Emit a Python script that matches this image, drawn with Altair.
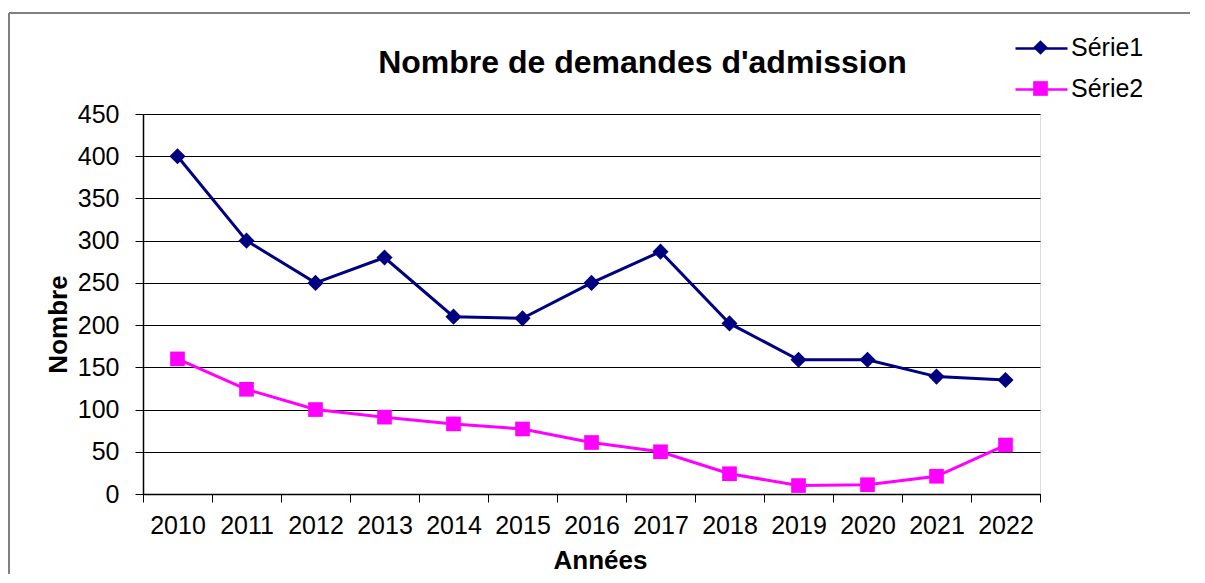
import altair as alt
import pandas as pd

years = [str(y) for y in range(2010, 2023)]
serie1 = [400, 300, 250, 280, 210, 208, 250, 287, 202, 159, 159, 139, 135]
serie2 = [160, 124, 100, 91, 83, 77, 61, 50, 24, 10, 11, 21, 58]
series_names = ["Série1", "Série2"]
series_colors = ["#000080", "#FF00FF"]
y_ticks = list(range(0, 451, 50))

rows = []
for name, vals in zip(series_names, [serie1, serie2]):
    for yr, v in zip(years, vals):
        rows.append({"annee": yr, "nombre": v, "serie": name, "serie_l": name + " "})
df = pd.DataFrame(rows)
line_keys = [n + " " for n in series_names]

FONT = "Liberation Sans"
W, H = 897, 380

x_enc = alt.X(
    "annee:O",
    bandPosition=0.5,
    scale=alt.Scale(type="band", paddingInner=0, paddingOuter=0, domain=years),
    axis=alt.Axis(
        title="Années", titleFont=FONT, titleFontSize=26, titleFontWeight="bold",
        titleColor="black", titleX=457, titleY=66, titleBaseline="middle",
        labelFont=FONT, labelFontSize=25, labelColor="black", labelAngle=0,
        labelPadding=11, tickBand="extent", tickSize=8, tickColor="black",
        domainColor="black", domainWidth=1.5, grid=False,
    ),
)
y_enc = alt.Y(
    "nombre:Q",
    scale=alt.Scale(domain=[0, 450], nice=False, zero=True),
    axis=alt.Axis(
        values=y_ticks, title="Nombre", titleFont=FONT, titleFontSize=26,
        titleFontWeight="bold", titleColor="black", titleX=-85, titleY=210,
        titleAlign="center", titleBaseline="middle", titleAngle=-90,
        labelFont=FONT, labelFontSize=25, labelColor="black", labelPadding=16,
        tickSize=8, tickColor="black", domainColor="black", domainWidth=1.5,
        grid=True, gridColor="black", gridWidth=1, gridOpacity=1,
    ),
)

color_scale = alt.Scale(domain=series_names, range=series_colors)
base = alt.Chart(df)

lines = base.mark_line(strokeWidth=3).encode(
    x=x_enc, y=y_enc,
    color=alt.Color("serie:N", scale=color_scale, legend=None),
)
points = base.mark_point(filled=True, opacity=1).encode(
    x=x_enc, y=y_enc,
    color=alt.Color("serie:N", scale=color_scale, legend=None),
    shape=alt.Shape("serie:N", scale=alt.Scale(domain=series_names, range=["diamond", "square"]), legend=None),
    size=alt.Size("serie:N", scale=alt.Scale(domain=series_names, range=[260, 215]), legend=None),
)

# legend: line part (no labels)
leg_line = base.transform_filter("false").mark_line(strokeWidth=2.5).encode(
    x=x_enc, y=y_enc,
    stroke=alt.Stroke("serie_l:N", scale=alt.Scale(domain=line_keys, range=series_colors),
                      legend=alt.Legend(
        orient="none", legendX=871, legendY=-93, title=None, padding=0,
        labelFont=FONT, labelFontSize=25, labelColor="black", labelOffset=6,
        labelExpr="''", symbolType="stroke", symbolSize=2704, symbolStrokeWidth=2.5,
        rowPadding=-1,
    )),
)
# legend: marker part (visible labels)
mk_leg = dict(
    orient="none", legendX=885, legendY=-79, title=None, padding=0,
    labelFont=FONT, labelFontSize=25, labelColor="black", labelOffset=18,
    symbolSize=215, symbolOpacity=1, symbolStrokeWidth=0, rowPadding=15,
)
leg_marker = base.transform_filter("false").mark_point(filled=True).encode(
    x=x_enc, y=y_enc,
    fill=alt.Fill("serie:N", scale=alt.Scale(domain=series_names, range=series_colors),
                  legend=alt.Legend(**mk_leg)),
    shape=alt.Shape("serie:N", scale=alt.Scale(domain=series_names, range=["diamond", "square"]),
                    legend=alt.Legend(**mk_leg)),
)

frame_left = base.mark_rule(color="#808080", strokeWidth=2).encode(
    x=alt.value(-134), y=alt.value(-101), y2=alt.value(600)
)
frame_top = base.mark_rule(color="#808080", strokeWidth=2).encode(
    x=alt.value(-134), x2=alt.value(1200), y=alt.value(-101)
)

chart = alt.layer(frame_left, frame_top, lines, points, leg_line, leg_marker).resolve_scale(
    shape="independent", size="independent", stroke="independent", fill="independent"
).properties(
    width=W, height=H,
    title=alt.Title("Nombre de demandes d'admission", font=FONT, fontSize=32,
                    fontWeight="bold", color="black", anchor="middle", frame="group",
                    dx=51, dy=72),
    autosize=alt.AutoSizeParams(type="none"),
    padding={"left": 135, "top": 106, "right": 150, "bottom": 80},
).configure_view(
    fill="#C0C0C0", stroke="#808080", strokeWidth=2
).configure(background="white")

chart.save("out.html", embed_options={"renderer": "svg", "actions": False})
